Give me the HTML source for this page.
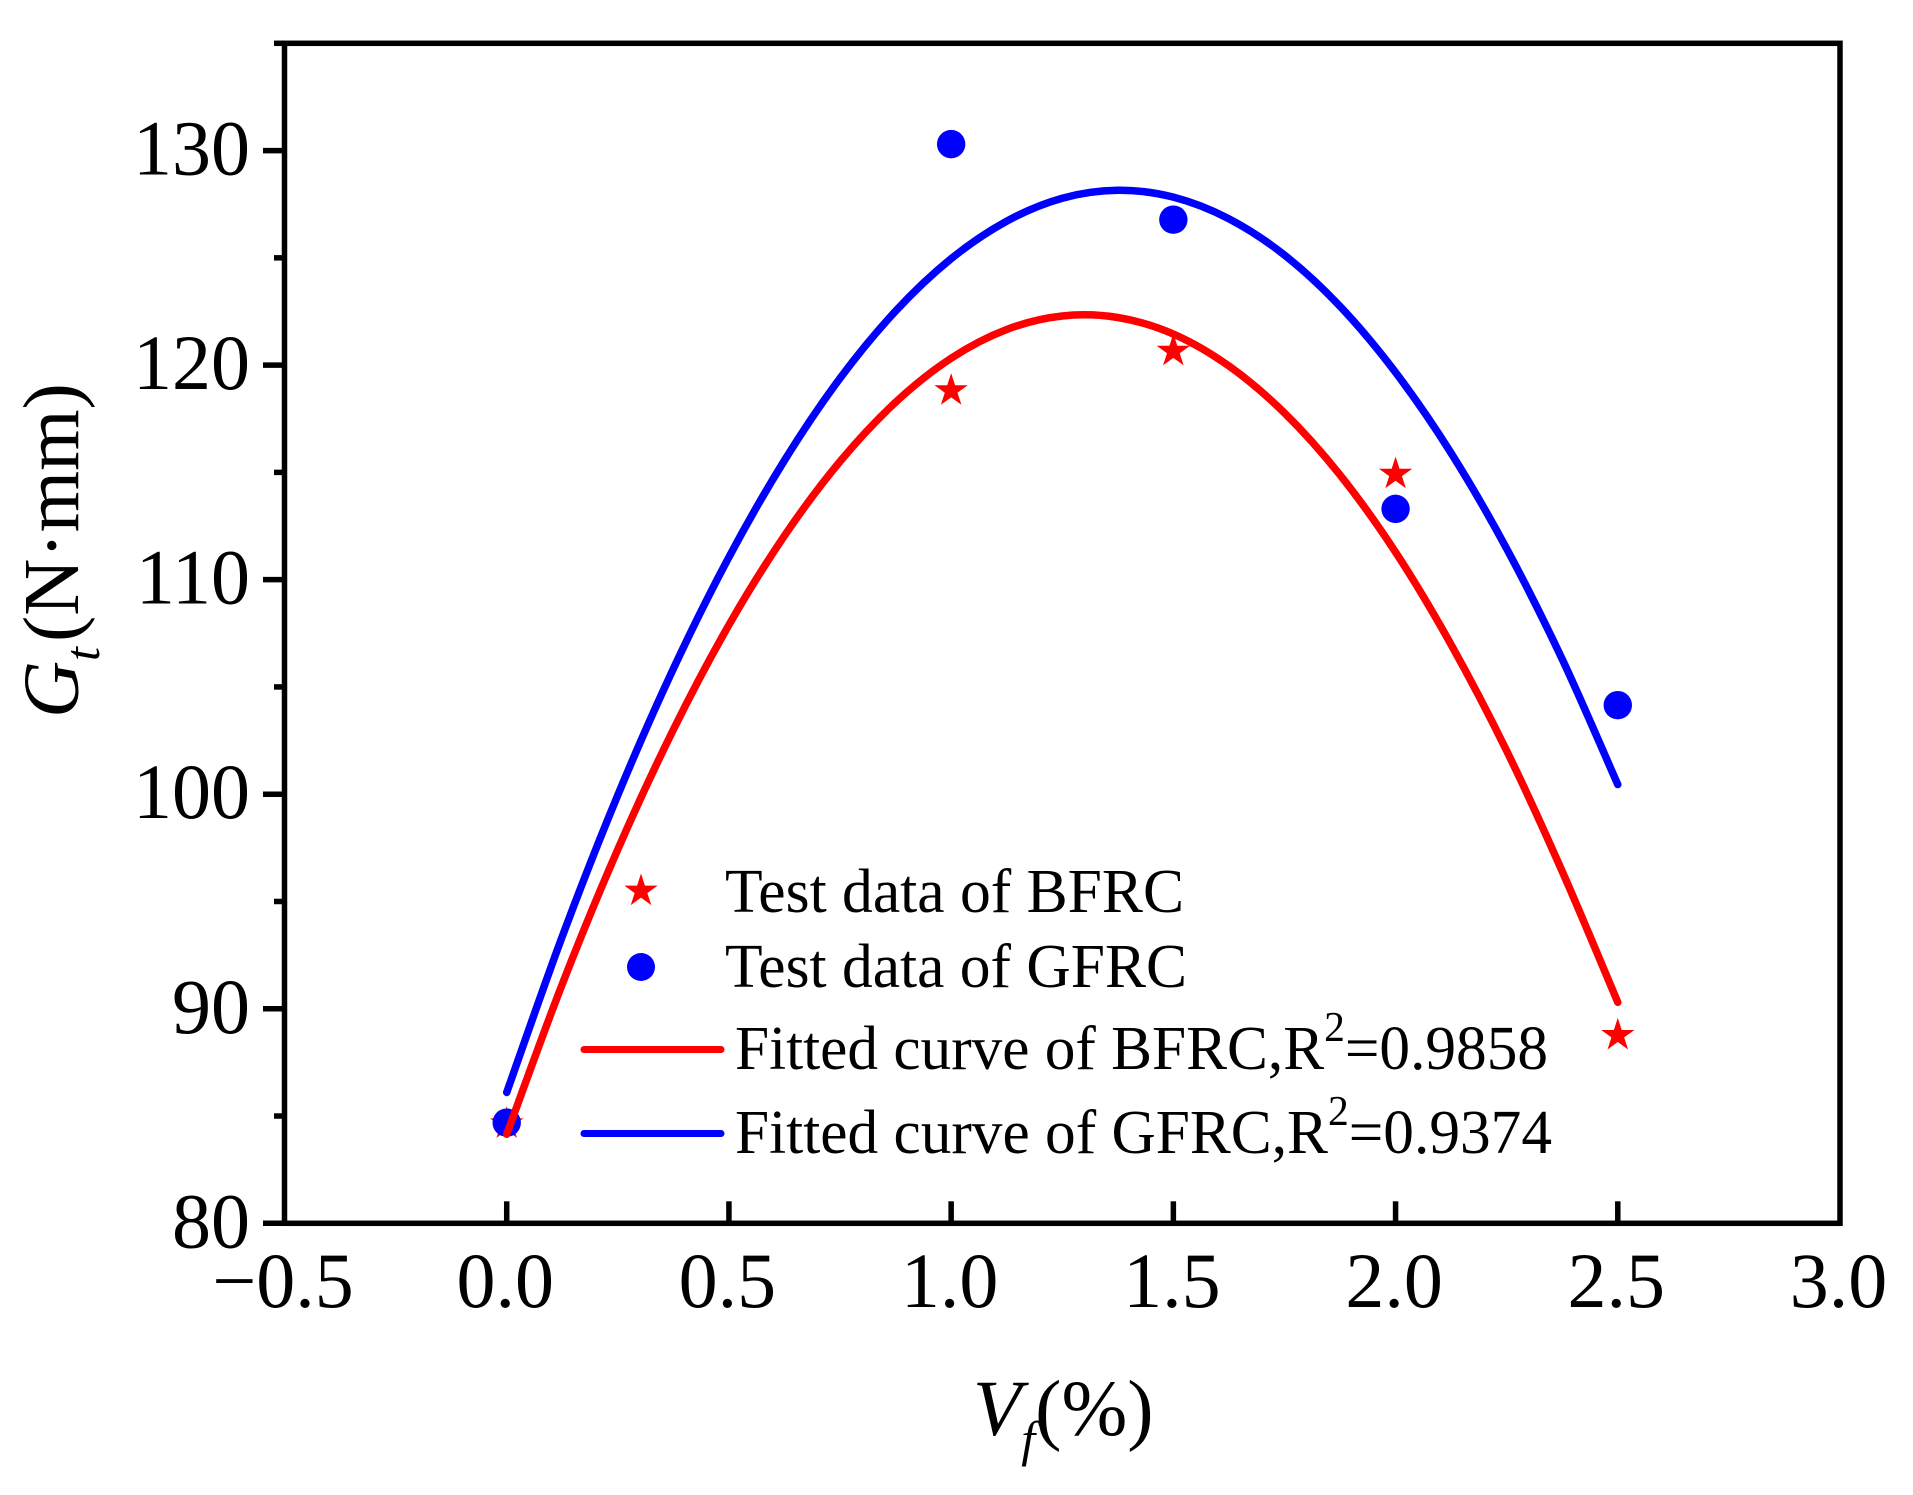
<!DOCTYPE html>
<html lang="en">
<head>
<meta charset="utf-8">
<title>Gt versus Vf chart</title>
<style>
html,body{margin:0;padding:0;background:#fff;}
svg{display:block;}
text{font-family:"Liberation Serif",serif;fill:#000;}
</style>
</head>
<body>
<svg id="chart" xmlns="http://www.w3.org/2000/svg" width="1913" height="1495" viewBox="0 0 1913 1495">
<rect x="0" y="0" width="1913" height="1495" fill="#fff"/>
<g id="axes"></g>
<g id="curves"></g>
<g id="points"></g>
<text transform="translate(78,718) rotate(-90)" font-size="79"><tspan font-style="italic">G</tspan><tspan font-style="italic" font-size="50" dy="21">t</tspan><tspan dy="-21" dx="5">(N·mm)</tspan></text>
<text x="973" y="1435" font-size="79"><tspan font-style="italic">V</tspan><tspan font-style="italic" font-size="50" dy="21">f</tspan><tspan dy="-21">(%)</tspan></text>
<g>
<g>
<polygon id="legend-star" fill="#f00"/>
<text x="725" y="912" font-size="62" textLength="459" lengthAdjust="spacingAndGlyphs">Test data of BFRC</text>
</g>
<g>
<ellipse cx="641" cy="967" rx="14" ry="14" fill="#00f"/>
<text x="725" y="987" font-size="62" textLength="462" lengthAdjust="spacingAndGlyphs">Test data of GFRC</text>
</g>
<g>
<line x1="584" y1="1049.5" x2="721" y2="1049.5" stroke="#f00" stroke-width="7" stroke-linecap="round"/>
<text x="735" y="1069" font-size="62" textLength="813" lengthAdjust="spacingAndGlyphs">Fitted curve of BFRC,R<tspan font-size="42" dy="-28">2</tspan><tspan dy="28">=0.9858</tspan></text>
</g>
<g>
<line x1="584" y1="1133.5" x2="721" y2="1133.5" stroke="#00f" stroke-width="7" stroke-linecap="round"/>
<text x="735" y="1153" font-size="62" textLength="817" lengthAdjust="spacingAndGlyphs">Fitted curve of GFRC,R<tspan font-size="42" dy="-28">2</tspan><tspan dy="28">=0.9374</tspan></text>
</g>
</g>
</svg>
<script>
const xMajorTicks = [-0.5, 0, 0.5, 1, 1.5, 2, 2.5, 3];
const xTickLabels = ["\u22120.5", "0.0", "0.5", "1.0", "1.5", "2.0", "2.5", "3.0"];
const yMajorTicks = [80, 90, 100, 110, 120, 130];
const yTickLabels = ["80", "90", "100", "110", "120", "130"];
const yMinorTicks = [85, 95, 105, 115, 125, 135];
const testX = [0, 1, 1.5, 2, 2.5];
const bfrcTest = [84.64, 118.81, 120.65, 114.92, 88.76];
const gfrcTest = [84.69, 130.3, 126.78, 113.3, 104.15];
const fitX = [0, 0.125, 0.25, 0.375, 0.5, 0.625, 0.75, 0.875, 1, 1.125, 1.25, 1.375, 1.5, 1.625, 1.75, 1.875, 2, 2.125, 2.25, 2.375, 2.5];
const bfrcFit = [84.15, 91.15, 97.43, 103.01, 107.89, 112.05, 115.51, 118.27, 120.32, 121.66, 122.29, 122.22, 121.45, 119.96, 117.77, 114.88, 111.28, 106.97, 102.02, 96.4, 90.3];
const gfrcFit = [86.1, 93.37, 99.96, 105.85, 111.05, 115.56, 119.39, 122.52, 124.96, 126.71, 127.78, 128.15, 127.83, 126.82, 125.13, 122.74, 119.66, 115.9, 111.44, 106.29, 100.45];

const NS = "http://www.w3.org/2000/svg";
const plotLeft = 284.5, plotRight = 1840, plotTop = 43.3, plotBottom = 1223.3;
const xMin = -0.5, xMax = 3, yMin = 80, yMax = 135;
function xScale(v) { return plotLeft + (v - xMin) / (xMax - xMin) * (plotRight - plotLeft); }
function yScale(v) { return plotBottom - (v - yMin) / (yMax - yMin) * (plotBottom - plotTop); }
function make(tag, attrs, parent) {
  const el = document.createElementNS(NS, tag);
  for (const k in attrs) el.setAttribute(k, attrs[k]);
  parent.appendChild(el);
  return el;
}
function starPoints(cx, cy, R) {
  const r = R * 0.382, pts = [];
  for (let i = 0; i < 10; i++) {
    const a = -Math.PI / 2 + i * Math.PI / 5, d = i % 2 ? r : R;
    pts.push((cx + d * Math.cos(a)).toFixed(2) + "," + (cy + d * Math.sin(a)).toFixed(2));
  }
  return pts.join(" ");
}
function smoothPath(xs, ys) {
  const p = xs.map((x, i) => [xScale(x), yScale(ys[i])]);
  let d = "M" + p[0][0].toFixed(2) + " " + p[0][1].toFixed(2);
  for (let i = 0; i < p.length - 1; i++) {
    const a = p[Math.max(0, i - 1)], b = p[i], c = p[i + 1], e = p[Math.min(p.length - 1, i + 2)];
    d += "C" + (b[0] + (c[0] - a[0]) / 6).toFixed(2) + " " + (b[1] + (c[1] - a[1]) / 6).toFixed(2) + " " +
         (c[0] - (e[0] - b[0]) / 6).toFixed(2) + " " + (c[1] - (e[1] - b[1]) / 6).toFixed(2) + " " +
         c[0].toFixed(2) + " " + c[1].toFixed(2);
  }
  return d;
}

const axes = document.getElementById("axes");
const frame = make("rect", {x: plotLeft, y: plotTop, width: plotRight - plotLeft, height: plotBottom - plotTop, fill: "none", stroke: "#000", "stroke-width": 5.5}, axes);



xMajorTicks.forEach(function (v, i) {
  const x = xScale(v);
  if (v > xMin && v < xMax) {
    const t = make("line", {x1: x, x2: x, y1: plotBottom, y2: plotBottom - 22, stroke: "#000", "stroke-width": 5.5}, axes);
    
    
  }
  const l = make("text", {x: x - 1.5, y: 1307, "font-size": 78, "text-anchor": "middle"}, axes);
  l.textContent = xTickLabels[i];
  
  
});
yMajorTicks.forEach(function (v, i) {
  const y = yScale(v);
  const t = make("line", {x1: 263, x2: plotLeft, y1: y, y2: y, stroke: "#000", "stroke-width": 5.5}, axes);
  
  
  const l = make("text", {x: 250, y: y + 24, "font-size": 78, "text-anchor": "end"}, axes);
  l.textContent = yTickLabels[i];
  
  
});
yMinorTicks.forEach(function (v) {
  const y = yScale(v);
  const t = make("line", {x1: 274, x2: plotLeft, y1: y, y2: y, stroke: "#000", "stroke-width": 5.5}, axes);
  
  
});

const curves = document.getElementById("curves");
const points = document.getElementById("points");

testX.forEach(function (v, i) {
  const s = make("polygon", {points: starPoints(xScale(v), yScale(bfrcTest[i]), 17.5), fill: "#f00"}, points);
  
  
});
testX.forEach(function (v, i) {
  const c = make("circle", {cx: xScale(v), cy: yScale(gfrcTest[i]), r: 14.2, fill: "#00f"}, points);
  
  
});

const gfrcCurve = make("path", {d: smoothPath(fitX, gfrcFit), fill: "none", stroke: "#00f", "stroke-width": 7.5, "stroke-linecap": "round"}, curves);


const bfrcCurve = make("path", {d: smoothPath(fitX, bfrcFit), fill: "none", stroke: "#f00", "stroke-width": 7.5, "stroke-linecap": "round"}, curves);


document.getElementById("chart").appendChild(curves);

document.getElementById("legend-star").setAttribute("points", starPoints(641, 891, 17.5));
</script>
</body>
</html>
